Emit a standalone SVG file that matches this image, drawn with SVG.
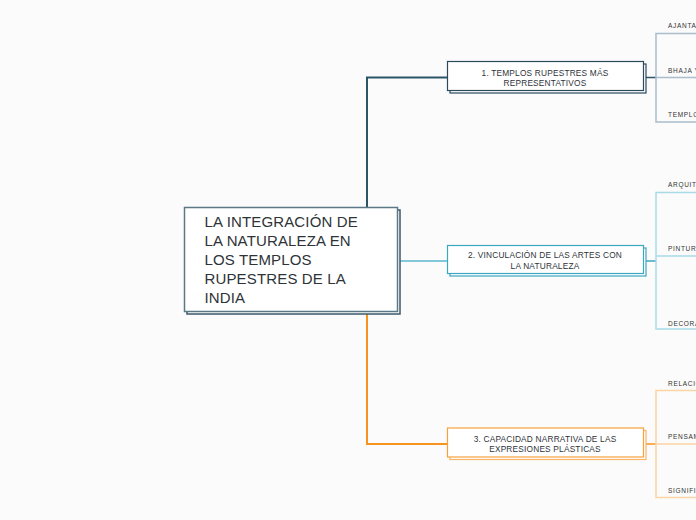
<svg xmlns="http://www.w3.org/2000/svg" width="696" height="520" viewBox="0 0 696 520">
<style>
.bg{fill:#fbfbfb}
.main{font-family:"Liberation Sans",Arial,sans-serif;font-size:15px;fill:#2e3338;letter-spacing:0.15px}
.sub{font-family:"Liberation Sans",Arial,sans-serif;font-size:8.3px;fill:#2e3338;text-anchor:middle;letter-spacing:0.2px}
.leaf{font-family:"Liberation Sans",Arial,sans-serif;font-size:6.5px;fill:#333333;letter-spacing:0.7px}
.box{fill:#ffffff}
</style>
<rect class="bg" x="0" y="0" width="696" height="520"/>
<g id="connectors" fill="none">
<path d="M367 207 V77.5 H447" stroke="#2b5468" stroke-width="2"/>
<path d="M398 261 H447" stroke="#5bb7cc" stroke-width="1.5"/>
<path d="M367 314 V444 H447" stroke="#f7941d" stroke-width="2"/>
<path d="M646 77.5 H656" stroke="#2b5468" stroke-width="1.5"/>
<path d="M696 33.5 H656 V122 H696 M656 77.5 H696" stroke="#a9bdcb" stroke-width="1.5"/>
<path d="M646 261 H656" stroke="#3ca7c0" stroke-width="1.5"/>
<path d="M696 192.5 H656 V329 H696 M656 256 H696" stroke="#a8dbe6" stroke-width="1.5"/>
<path d="M646 444 H656" stroke="#f7941d" stroke-width="1.5"/>
<path d="M696 390.5 H656 V497.5 H696 M656 444 H696" stroke="#fdd4a4" stroke-width="1.5"/>
</g>
<g id="main">
<rect class="box" x="187" y="210" width="213" height="104" stroke="#3b5a6a" stroke-width="1.5"/>
<rect class="box" x="184.5" y="207.5" width="213" height="104" stroke="#5a7886" stroke-width="1.5"/>
<text class="main" x="204.5" y="226.5">LA INTEGRACIÓN DE</text>
<text class="main" x="204.5" y="245.5">LA NATURALEZA EN</text>
<text class="main" x="204.5" y="264.5">LOS TEMPLOS</text>
<text class="main" x="204.5" y="283.5">RUPESTRES DE LA</text>
<text class="main" x="204.5" y="302.5">INDIA</text>
</g>
<g id="node1">
<rect class="box" x="450" y="64" width="196" height="29" stroke="#2b4a5c" stroke-width="1.2"/>
<rect class="box" x="447.5" y="61.5" width="196" height="29" stroke="#2b4a5c" stroke-width="1.2"/>
<text class="sub" x="545" y="75.5">1. TEMPLOS RUPESTRES MÁS</text>
<text class="sub" x="545" y="86">REPRESENTATIVOS</text>
</g>
<g id="node2">
<rect class="box" x="450" y="248" width="196" height="28" stroke="#3ca7c0" stroke-width="1.2"/>
<rect class="box" x="447.5" y="245.5" width="196" height="28" stroke="#3ca7c0" stroke-width="1.2"/>
<text class="sub" x="545" y="257.5">2. VINCULACIÓN DE LAS ARTES CON</text>
<text class="sub" x="545" y="268.5">LA NATURALEZA</text>
</g>
<g id="node3">
<rect class="box" x="450" y="430.5" width="196" height="29" stroke="#fbb466" stroke-width="1.2"/>
<rect class="box" x="447.5" y="428" width="196" height="29" stroke="#f7a13c" stroke-width="1.2"/>
<text class="sub" x="545" y="441.8">3. CAPACIDAD NARRATIVA DE LAS</text>
<text class="sub" x="545" y="452.3">EXPRESIONES PLÁSTICAS</text>
</g>
<g id="leaf1a"><text class="leaf" x="668" y="28">AJANTA</text></g>
<g id="leaf1b"><text class="leaf" x="668" y="72.5">BHAJA Y</text></g>
<g id="leaf1c"><text class="leaf" x="668" y="117">TEMPLO</text></g>
<g id="leaf2a"><text class="leaf" x="668" y="187">ARQUIT</text></g>
<g id="leaf2b"><text class="leaf" x="668" y="250.5">PINTURA</text></g>
<g id="leaf2c"><text class="leaf" x="668" y="325.5">DECORA</text></g>
<g id="leaf3a"><text class="leaf" x="668" y="386">RELACIÓ</text></g>
<g id="leaf3b"><text class="leaf" x="668" y="438.5">PENSAM</text></g>
<g id="leaf3c"><text class="leaf" x="668" y="493">SIGNIFI</text></g>
</svg>
